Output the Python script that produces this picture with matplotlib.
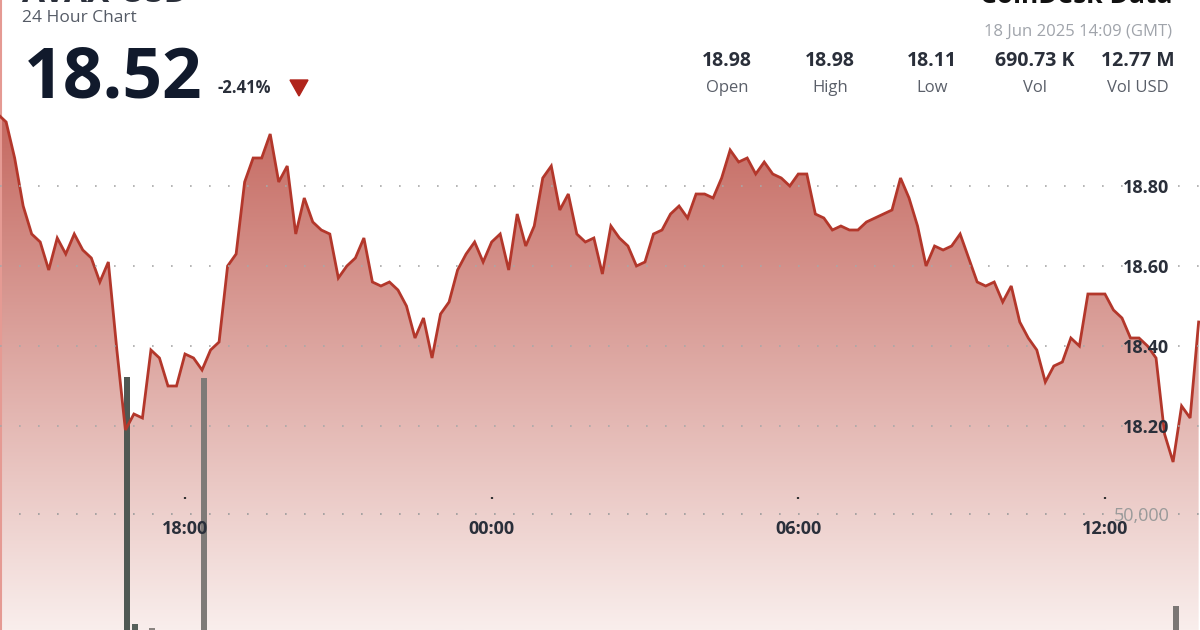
import numpy as np
import matplotlib
matplotlib.use("Agg")
import matplotlib.pyplot as plt
from matplotlib.colors import to_rgb
from matplotlib.patches import Polygon
from matplotlib.lines import Line2D

plt.rcParams['font.family'] = ['Open Sans', 'DejaVu Sans']

# price every 10 minutes from 14:20 (17 Jun)
start_hour = 14 + 20 / 60
price = [
    18.98,
    18.96, 18.87, 18.75, 18.68, 18.66, 18.59, 18.67, 18.63, 18.68, 18.64,
    18.62, 18.56, 18.61, 18.39, 18.19, 18.23, 18.22, 18.39, 18.37, 18.30,
    18.30, 18.38, 18.37, 18.34, 18.39, 18.41, 18.60, 18.63, 18.81, 18.87,
    18.87, 18.93, 18.81, 18.85, 18.68, 18.77, 18.71, 18.69, 18.68, 18.57,
    18.60, 18.62, 18.67, 18.56, 18.55, 18.56, 18.54,
    18.50, 18.42, 18.47, 18.37, 18.48, 18.51, 18.59, 18.63, 18.66, 18.61,
    18.66, 18.68, 18.59, 18.73, 18.65, 18.70, 18.82, 18.85, 18.74, 18.78,
    18.68, 18.66, 18.67, 18.58, 18.70, 18.67, 18.65, 18.60, 18.61, 18.68,
    18.69, 18.73, 18.75, 18.72, 18.78, 18.78, 18.77, 18.82, 18.89, 18.86,
    18.87, 18.83, 18.86, 18.83, 18.82, 18.80, 18.83,
    18.83, 18.73, 18.72, 18.69, 18.70, 18.69, 18.69, 18.71, 18.72, 18.73,
    18.74, 18.82, 18.77, 18.70, 18.60, 18.65, 18.64, 18.65, 18.68, 18.62,
    18.56, 18.55, 18.56, 18.51, 18.55, 18.46, 18.42, 18.39, 18.31, 18.35,
    18.36, 18.42, 18.40, 18.53, 18.53, 18.53, 18.49, 18.47, 18.42, 18.42,
    18.40, 18.37, 18.18, 18.11, 18.25, 18.22, 18.46,
]

# volume bars that show in the crop (hour of day, 24+ = 18 Jun)
vol_hours = [16.87, 17.02, 17.35, 18.37, 37.39]
vol_values = [91300, 16800, 15600, 91000, 22200]
vol_colors = ['#4f5853', '#56605a', '#8a8480', '#7e7a77', '#7b7674']

price_ticks = [18.20, 18.40, 18.60, 18.80]
time_ticks = [18, 24, 30, 36]
time_labels = ['18:00', '00:00', '06:00', '12:00']

stat_values = ['18.98', '18.98', '18.11', '690.73 K', '12.77 M']
stat_names = ['Open', 'High', 'Low', 'Vol', 'Vol USD']

W, H = 1200, 630
XLIM = (14.38, 37.86)
YLIM = (17.69, 19.265)
VLIM = (15000, 205000)


def fx(px):
    return px / W


def fy(py):
    return 1 - py / H


times = start_hour + np.arange(len(price)) / 6.0

fig = plt.figure(figsize=(12, 6.3), dpi=100, facecolor='white')

# layer 1: gradient fill under the price line
fax = fig.add_axes([0, 0, 1, 1], zorder=0)
fax.set_xlim(*XLIM)
fax.set_ylim(*YLIM)
fax.axis('off')
top = np.array(to_rgb('#b94b41'))
bot = np.array(to_rgb('#f9eeec'))
k = np.linspace(0, 1, 256)[:, None, None]
grad = top * (1 - k) + bot * k
poly = fax.fill_between(times, price, YLIM[0], color='none', lw=0)
im = fax.imshow(grad, extent=[XLIM[0], XLIM[1], YLIM[0], YLIM[1]],
                aspect='auto', origin='upper', interpolation='bilinear')
im.set_clip_path(poly.get_paths()[0], transform=fax.transData)

# layer 2: volume
vax = fig.add_axes([0, 0, 1, 1], zorder=1)
vax.patch.set_visible(False)
vax.set_xlim(*XLIM)
vax.set_ylim(*VLIM)
vax.bar(vol_hours, vol_values, width=0.12, color=vol_colors, zorder=2)
for s in vax.spines.values():
    s.set_visible(False)
vax.spines['left'].set_position(('axes', 1175 / W))
vax.set_xticks([])
vax.set_yticks([50000], labels=['50,000'])
vax.tick_params(axis='y', length=0, pad=4, labelsize=13, labelcolor='#9a9a9a')
vax.yaxis.grid(True, color='#9a9a9a', lw=1.2, linestyle=(0, (1, 10.4)))

# layer 3: price line and axes
ax = fig.add_axes([0, 0, 1, 1], zorder=2)
ax.patch.set_visible(False)
ax.set_xlim(*XLIM)
ax.set_ylim(*YLIM)
ax.plot(times, price, color='#b3372b', lw=2.0, solid_joinstyle='miter', zorder=2)
for s in ax.spines.values():
    s.set_visible(False)
ax.set_axisbelow(False)
ax.spines['left'].set_position(('axes', 1175 / W))
ax.spines['bottom'].set_position(('axes', (H - 499) / H))
ax.set_yticks(price_ticks, labels=[f'{v:.2f}' for v in price_ticks])
ax.tick_params(axis='y', length=0, pad=4, labelsize=13, labelcolor='#2a2f3a')
for t in ax.get_yticklabels():
    t.set_fontweight('bold')
ax.yaxis.grid(True, color='#a8a8a8', lw=1.2, linestyle=(0, (1, 10.4)))
ax.set_xticks(time_ticks, labels=time_labels)
ax.tick_params(axis='x', direction='in', length=1.6, width=1.6, color='#333333',
               pad=15, labelsize=13, labelcolor='#2a2f3a')
for t in ax.get_xticklabels():
    t.set_fontweight('bold')

# left border line
fig.add_artist(Line2D([fx(1), fx(1)], [0, 1], color='#e59a93', lw=1.5))

# header (title and logo are cut by the top edge in the original crop)
fig.text(fx(22), fy(2.5), 'AVAX-USD', fontsize=24, fontweight='bold',
         color='#2a2f3a', va='baseline')
fig.text(fx(22), fy(22), '24 Hour Chart', fontsize=12.5, color='#555b66',
         va='baseline')
fig.text(fx(24), fy(97), '18.52', fontsize=50, fontweight='bold',
         color='#111a2c', va='baseline')
fig.text(fx(218), fy(93), '-2.41%', fontsize=12, fontweight='bold',
         color='#2a2f3a', va='baseline')
fig.add_artist(Polygon([(fx(290), fy(80)), (fx(308), fy(80)), (fx(299), fy(96))],
                       closed=True, color='#b0241b', transform=fig.transFigure))

fig.text(fx(1172), fy(3), 'CoinDesk Data', fontsize=19, fontweight='bold',
         color='#111111', va='baseline', ha='right')
fig.text(fx(1172), fy(36), '18 Jun 2025 14:09 (GMT)', fontsize=12,
         color='#a0a4ab', va='baseline', ha='right')

stat_x = [727, 830, 932, 1035, 1138]
for x, v, n in zip(stat_x, stat_values, stat_names):
    fig.text(fx(x), fy(66), v, fontsize=14, fontweight='bold', color='#2a2f3a',
             ha='center', va='baseline')
    fig.text(fx(x), fy(92), n, fontsize=12, color='#5a5f69',
             ha='center', va='baseline')

fig.savefig('out.png', dpi=100, facecolor='white')
